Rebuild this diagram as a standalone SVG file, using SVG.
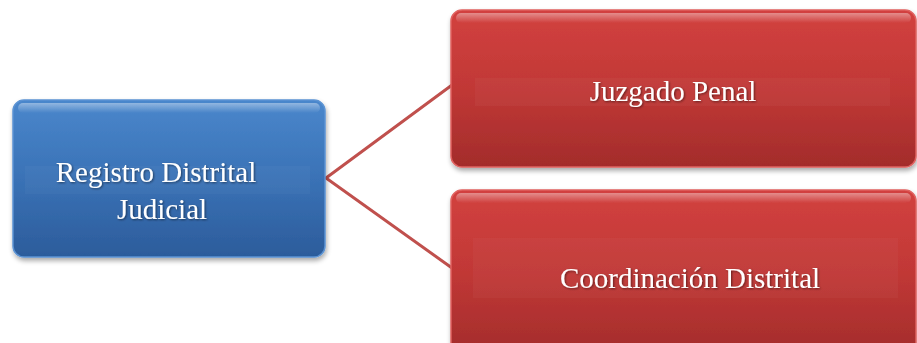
<svg xmlns="http://www.w3.org/2000/svg" width="917" height="343" viewBox="0 0 917 343">
  <defs>
    <linearGradient id="gBlue" x1="0" y1="0" x2="0" y2="1">
      <stop offset="0" stop-color="#4a87cc"/>
      <stop offset="0.5" stop-color="#3a72b6"/>
      <stop offset="1" stop-color="#2c5c9b"/>
    </linearGradient>
    <linearGradient id="gRed" x1="0" y1="0" x2="0" y2="1">
      <stop offset="0" stop-color="#d2413f"/>
      <stop offset="0.5" stop-color="#c13836"/>
      <stop offset="1" stop-color="#a32c2b"/>
    </linearGradient>
    <linearGradient id="gShine" x1="0" y1="0" x2="0" y2="1">
      <stop offset="0" stop-color="#ffffff" stop-opacity="0.4"/>
      <stop offset="1" stop-color="#ffffff" stop-opacity="0"/>
    </linearGradient>
    <filter id="shadow" x="-10%" y="-10%" width="120%" height="130%">
      <feGaussianBlur in="SourceAlpha" stdDeviation="2.5"/>
      <feOffset dx="1" dy="3" result="b"/>
      <feComponentTransfer><feFuncA type="linear" slope="0.35"/></feComponentTransfer>
      <feMerge><feMergeNode/><feMergeNode in="SourceGraphic"/></feMerge>
    </filter>
    <filter id="halo" x="-5%" y="-20%" width="110%" height="140%">
      <feGaussianBlur in="SourceAlpha" stdDeviation="0.8"/>
      <feOffset dx="0.5" dy="0.5"/>
      <feComponentTransfer><feFuncA type="linear" slope="0.5"/></feComponentTransfer>
      <feMerge><feMergeNode/><feMergeNode in="SourceGraphic"/></feMerge>
    </filter>
  </defs>
  <style>
    .box { filter: url(#shadow); }
    .blue { fill: url(#gBlue); stroke: #5b93d3; stroke-width: 1.5; }
    .red { fill: url(#gRed); stroke: #e06260; stroke-width: 1.5; }
    .shine { fill: url(#gShine); }
    .band { fill: #ffffff; opacity: 0.03; }
    .label { font-family: "Liberation Serif", "Times New Roman", serif; font-size: 29px; fill: #ffffff; text-anchor: middle; filter: url(#halo); }
    .conn { fill: none; stroke: #c0504d; stroke-width: 3; }
  </style>

  <rect width="917" height="343" fill="#ffffff"/>

  <g id="connectors">
    <polyline class="conn" points="452,85 326,178 452,268"/>
  </g>

  <g id="registro" class="box">
    <rect class="blue" x="13" y="100" width="312" height="157" rx="11"/>
    <rect class="shine" x="18" y="103" width="302" height="10" rx="5"/>
    <rect class="band" x="25" y="166" width="285" height="28"/>
    <text class="label" x="156" y="182">Registro Distrital</text>
    <text class="label" x="162" y="219">Judicial</text>
  </g>

  <g id="juzgado" class="box">
    <rect class="red" x="451" y="10" width="465" height="157" rx="11"/>
    <rect class="shine" x="456" y="13" width="455" height="10" rx="5"/>
    <rect class="band" x="475" y="78" width="415" height="28"/>
    <text class="label" x="673" y="101">Juzgado Penal</text>
  </g>

  <g id="coordinacion" class="box">
    <rect class="red" x="451" y="190" width="465" height="165" rx="11"/>
    <rect class="shine" x="456" y="193" width="455" height="10" rx="5"/>
    <rect class="band" x="473" y="238" width="425" height="60"/>
    <text class="label" x="690" y="288">Coordinación Distrital</text>
  </g>
</svg>
